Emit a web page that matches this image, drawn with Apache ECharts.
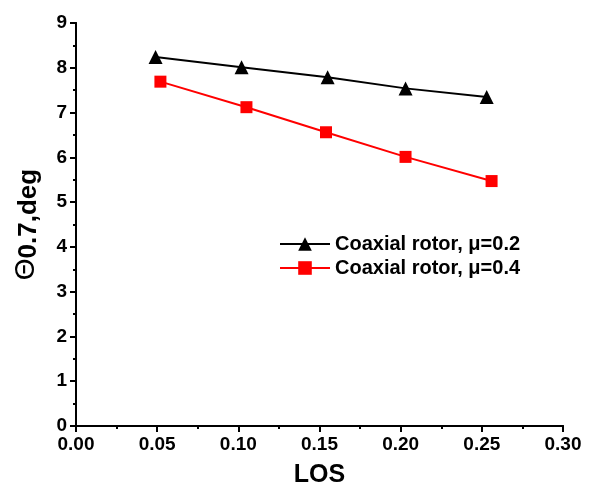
<!DOCTYPE html>
<html>
<head>
<meta charset="utf-8">
<script src="https://cdn.jsdelivr.net/npm/echarts@6/dist/echarts.min.js"></script>
<style>
  html, body { margin: 0; padding: 0; background: #fff; }
  #chart { width: 590px; height: 485px; }
</style>
</head>
<body>
<div id="chart"></div>
<script>
// LOS values (points sit a little off the nominal ticks)
const losMu02 = [0.049, 0.102, 0.155, 0.203, 0.253];
const losMu04 = [0.052, 0.105, 0.154, 0.203, 0.256];
const thetaMu02 = [8.24, 8.01, 7.79, 7.54, 7.35];
const thetaMu04 = [7.69, 7.12, 6.56, 6.01, 5.47];
const seriesNames = ["Coaxial rotor, μ=0.2", "Coaxial rotor, μ=0.4"];

const font = "Liberation Sans, Arial, sans-serif";
const pairs = (xs, ys) => xs.map((x, i) => [x, ys[i]]);

const chart = echarts.init(document.getElementById("chart"));

const axisLine = { show: true, lineStyle: { color: "#000", width: 2 } };
const labelStyle = { color: "#000", fontFamily: font, fontWeight: "bold", fontSize: 19 };

chart.setOption({
  animation: false,
  grid: { left: 76, right: 27, top: 23, bottom: 59, outerBoundsMode: "none" },
  legend: {
    orient: "vertical",
    left: 274,
    top: 229,
    itemWidth: 50,
    itemHeight: 17,
    itemGap: 4,
    textStyle: { color: "#000", fontFamily: font, fontWeight: "bold", fontSize: 20 },
    data: seriesNames,
  },
  xAxis: [
    {
      type: "value",
      min: 0,
      max: 0.3,
      interval: 0.05,
      name: "LOS",
      nameLocation: "middle",
      nameGap: 37,
      nameTextStyle: { color: "#000", fontFamily: font, fontWeight: "bold", fontSize: 25 },
      axisLine: axisLine,
      axisTick: { show: true, inside: false, length: 6, lineStyle: { color: "#000", width: 2 } },
      minorTick: { show: true, splitNumber: 2, length: 3, lineStyle: { color: "#000", width: 2 } },
      axisLabel: Object.assign({ margin: 9, formatter: (v) => v.toFixed(2) }, labelStyle),
      splitLine: { show: false },
    },
    {
      type: "value",
      position: "top",
      min: 0,
      max: 0.3,
      axisLine: axisLine,
      axisTick: { show: false },
      axisLabel: { show: false },
      splitLine: { show: false },
    },
  ],
  yAxis: [
    {
      type: "value",
      min: 0,
      max: 9,
      interval: 1,
      name: "{t|Θ}{s|0.7,deg}",
      nameLocation: "middle",
      nameGap: 34,
      nameRotate: 90,
      nameTextStyle: {
        rich: {
          t: { fontFamily: font, fontSize: 28, color: "#000", lineHeight: 32 },
          s: { fontFamily: font, fontSize: 26, fontWeight: "bold", color: "#000", verticalAlign: "bottom", lineHeight: 32, padding: [14, 0, 0, 0] },
        },
      },
      axisLine: axisLine,
      axisTick: { show: true, inside: false, length: 6, lineStyle: { color: "#000", width: 2 } },
      minorTick: { show: true, splitNumber: 2, length: 3, lineStyle: { color: "#000", width: 2 } },
      axisLabel: Object.assign({ margin: 9 }, labelStyle),
      splitLine: { show: false },
    },
    {
      type: "value",
      position: "right",
      min: 0,
      max: 9,
      axisLine: axisLine,
      axisTick: { show: false },
      axisLabel: { show: false },
      splitLine: { show: false },
    },
  ],
  series: [
    {
      name: seriesNames[0],
      type: "line",
      data: pairs(losMu02, thetaMu02),
      symbol: "triangle",
      symbolSize: 14,
      itemStyle: { color: "#000" },
      lineStyle: { color: "#000", width: 2 },
    },
    {
      name: seriesNames[1],
      type: "line",
      data: pairs(losMu04, thetaMu04),
      symbol: "rect",
      symbolSize: 12,
      itemStyle: { color: "#ff0000" },
      lineStyle: { color: "#ff0000", width: 2 },
    },
  ],
});
</script>
</body>
</html>
